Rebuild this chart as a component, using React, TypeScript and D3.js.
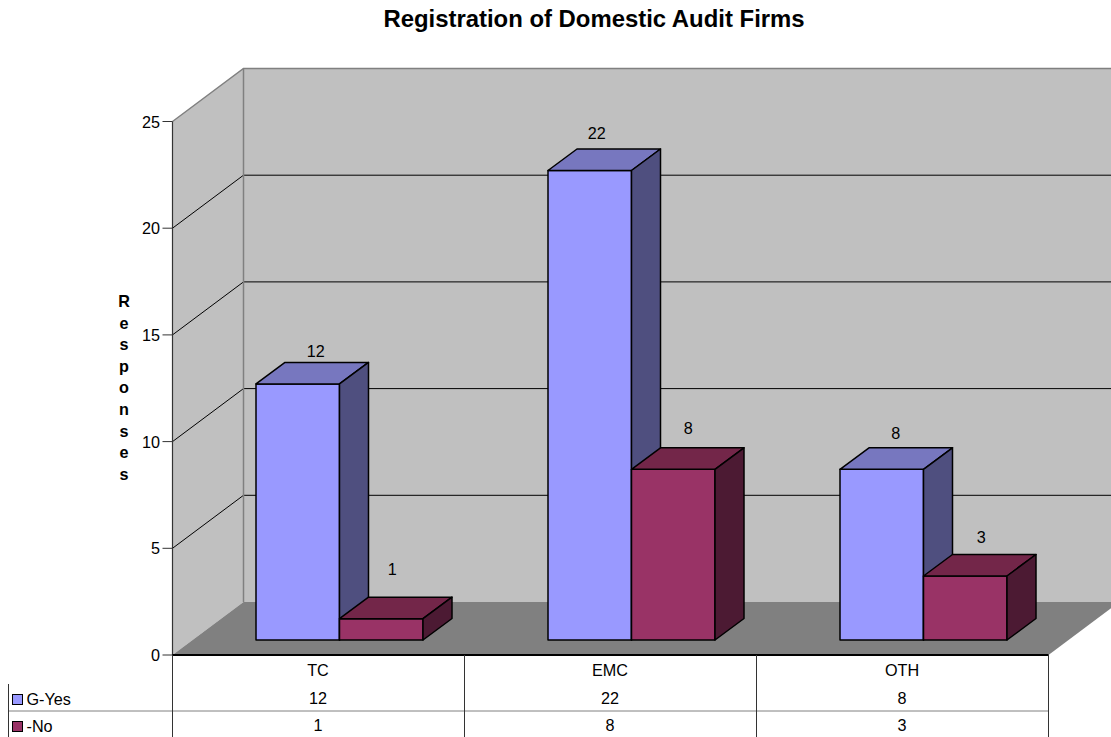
import React from "react";
import * as d3 from "d3";

const title = "Registration of Domestic Audit Firms";
const yTitle = "Responses";
const categories = ["TC", "EMC", "OTH"];
const seriesNames = ["G-Yes", "-No"];
const yesValues = [12, 22, 8];
const noValues = [1, 8, 3];
const yTicks = [0, 5, 10, 15, 20, 25];

// the old renderer placed data labels a bit unevenly, [dx, dy] per label
const yesNudge = [[18, -11], [7, -16], [14, -15]];
const noNudge = [[11, -28], [15, -20], [16, -17]];

const W = 1111;
const H = 737;
const font = "'Liberation Sans', Arial, sans-serif";
const labelSize = 16.2;

const fills = [
  { front: "#9999ff", top: "#7777bf", side: "#4f4f7f" },
  { front: "#993366", top: "#732649", side: "#4c1a33" },
];

const y = d3.scaleLinear().domain([0, 25]).range([655, 121.5]);
const x = d3.scaleBand().domain(categories).range([172.5, 1048.5]);

// oblique projection of the 3d box
const wallDx = 71;
const wallDy = -53;
const barInsetX = 83.5;
const barInsetY = 15;
const barW = 83.5;
const barDx = 29;
const barDy = -21.5;

const poly = d3.line();

function Bar({ left, value, color }: { left: number; value: number; color: (typeof fills)[0] }) {
  const yTop = y(value) - barInsetY;
  const yBase = y(0) - barInsetY;
  const right = left + barW;
  const stroke = { stroke: "#000", strokeWidth: 1.5, strokeLinejoin: "round" as const };
  return (
    <g>
      <path
        d={poly([[left, yBase], [right, yBase], [right, yTop], [left, yTop]]) + "Z"}
        fill={color.front}
        {...stroke}
      />
      <path
        d={poly([[left, yTop], [right, yTop], [right + barDx, yTop + barDy], [left + barDx, yTop + barDy]]) + "Z"}
        fill={color.top}
        {...stroke}
      />
      <path
        d={poly([[right, yTop], [right + barDx, yTop + barDy], [right + barDx, yBase + barDy], [right, yBase]]) + "Z"}
        fill={color.side}
        {...stroke}
      />
    </g>
  );
}

export default function App() {
  const x0 = x.range()[0];
  const x1 = x.range()[1];
  const yTopTick = y(25);
  const yZero = y(0);
  const rowLine = 711;
  const rows = [yesValues, noValues];
  const rowText = [704, 731];

  return (
    <svg
      width={W}
      height={H}
      viewBox={`0 0 ${W} ${H}`}
      style={{ position: "absolute", left: 0, top: 0, background: "#fff" }}
      fontFamily={font}
    >
      <text x={594} y={27} textAnchor="middle" fontSize={23.9} fontWeight="bold" fill="#000">
        {title}
      </text>

      {/* walls */}
      <path
        d={poly([[x0, yZero], [x0, yTopTick], [x0 + wallDx, yTopTick + wallDy], [x0 + wallDx, yZero + wallDy]]) + "Z"}
        fill="#c0c0c0"
      />
      <rect
        x={x0 + wallDx}
        y={yTopTick + wallDy}
        width={W - x0 - wallDx}
        height={yZero - yTopTick}
        fill="#c0c0c0"
      />
      <path
        d={poly([[x0, yZero], [x1, yZero], [x1 + wallDx, yZero + wallDy], [x0 + wallDx, yZero + wallDy]]) + "Z"}
        fill="#808080"
      />

      {/* grid */}
      {yTicks.slice(1, -1).map((t) => (
        <path
          key={t}
          d={poly([[x0, y(t)], [x0 + wallDx, y(t) + wallDy], [W, y(t) + wallDy]]) ?? ""}
          fill="none"
          stroke="#000"
          strokeWidth={1}
        />
      ))}
      <path
        d={poly([[x0, yTopTick], [x0 + wallDx, yTopTick + wallDy], [W, yTopTick + wallDy]]) ?? ""}
        fill="none"
        stroke="#808080"
        strokeWidth={1.5}
      />
      <line
        x1={x0 + wallDx}
        x2={x0 + wallDx}
        y1={yTopTick + wallDy}
        y2={yZero + wallDy}
        stroke="#808080"
        strokeWidth={1.5}
      />

      {/* y axis */}
      <line x1={x0} x2={x0} y1={yTopTick} y2={yZero} stroke="#333" strokeWidth={1.2} />
      {yTicks.map((t) => (
        <g key={t}>
          <line x1={x0 - 10} x2={x0} y1={y(t)} y2={y(t)} stroke="#333" strokeWidth={1} />
          <text x={x0 - 12.5} y={y(t) + 6} textAnchor="end" fontSize={labelSize} fill="#000">
            {t}
          </text>
        </g>
      ))}
      {yTitle.split("").map((ch, i) => (
        <text key={i} x={124} y={307 + i * 21.6} textAnchor="middle" fontSize={labelSize} fontWeight="bold" fill="#000">
          {ch}
        </text>
      ))}

      {/* bars */}
      {categories.map((c, i) => {
        const left = (x(c) as number) + barInsetX;
        return (
          <g key={c}>
            <Bar left={left} value={yesValues[i]} color={fills[0]} />
            <Bar left={left + barW} value={noValues[i]} color={fills[1]} />
          </g>
        );
      })}

      {/* data labels */}
      {categories.map((c, i) => {
        const left = (x(c) as number) + barInsetX;
        const labels = [
          { v: yesValues[i], cx: left + barW / 2, n: yesNudge[i] },
          { v: noValues[i], cx: left + barW * 1.5, n: noNudge[i] },
        ];
        return labels.map((l, j) => (
          <text
            key={j}
            x={l.cx + l.n[0]}
            y={y(l.v) - barInsetY + barDy + l.n[1] + 6}
            textAnchor="middle"
            fontSize={labelSize}
            fill="#000"
          >
            {l.v}
          </text>
        ));
      })}

      {/* data table */}
      <line x1={x0} x2={x1} y1={yZero} y2={yZero} stroke="#000" strokeWidth={2} />
      <line x1={8} x2={x1} y1={rowLine} y2={rowLine} stroke="#808080" strokeWidth={1} />
      <line x1={8.5} x2={8.5} y1={684} y2={H} stroke="#333" strokeWidth={1} />
      {[...categories.map((c) => x(c) as number), x1].map((v) => (
        <line key={v} x1={v} x2={v} y1={yZero} y2={H} stroke="#333" strokeWidth={1} />
      ))}
      {categories.map((c, i) => {
        const cx = (x(c) as number) + x.bandwidth() / 2 - 0.5;
        return (
          <g key={c} textAnchor="middle" fontSize={labelSize} fill="#000">
            <text x={cx} y={676}>{c}</text>
            {rows.map((r, k) => (
              <text key={k} x={cx} y={rowText[k]}>{r[i]}</text>
            ))}
          </g>
        );
      })}
      {seriesNames.map((s, k) => (
        <g key={s}>
          <rect x={12.5} y={[694.5, 721.5][k]} width={10} height={10} fill={fills[k].front} stroke="#000" strokeWidth={1} />
          <text x={26.5} y={[705, 732][k]} fontSize={labelSize} fill="#000">{s}</text>
        </g>
      ))}
    </svg>
  );
}
